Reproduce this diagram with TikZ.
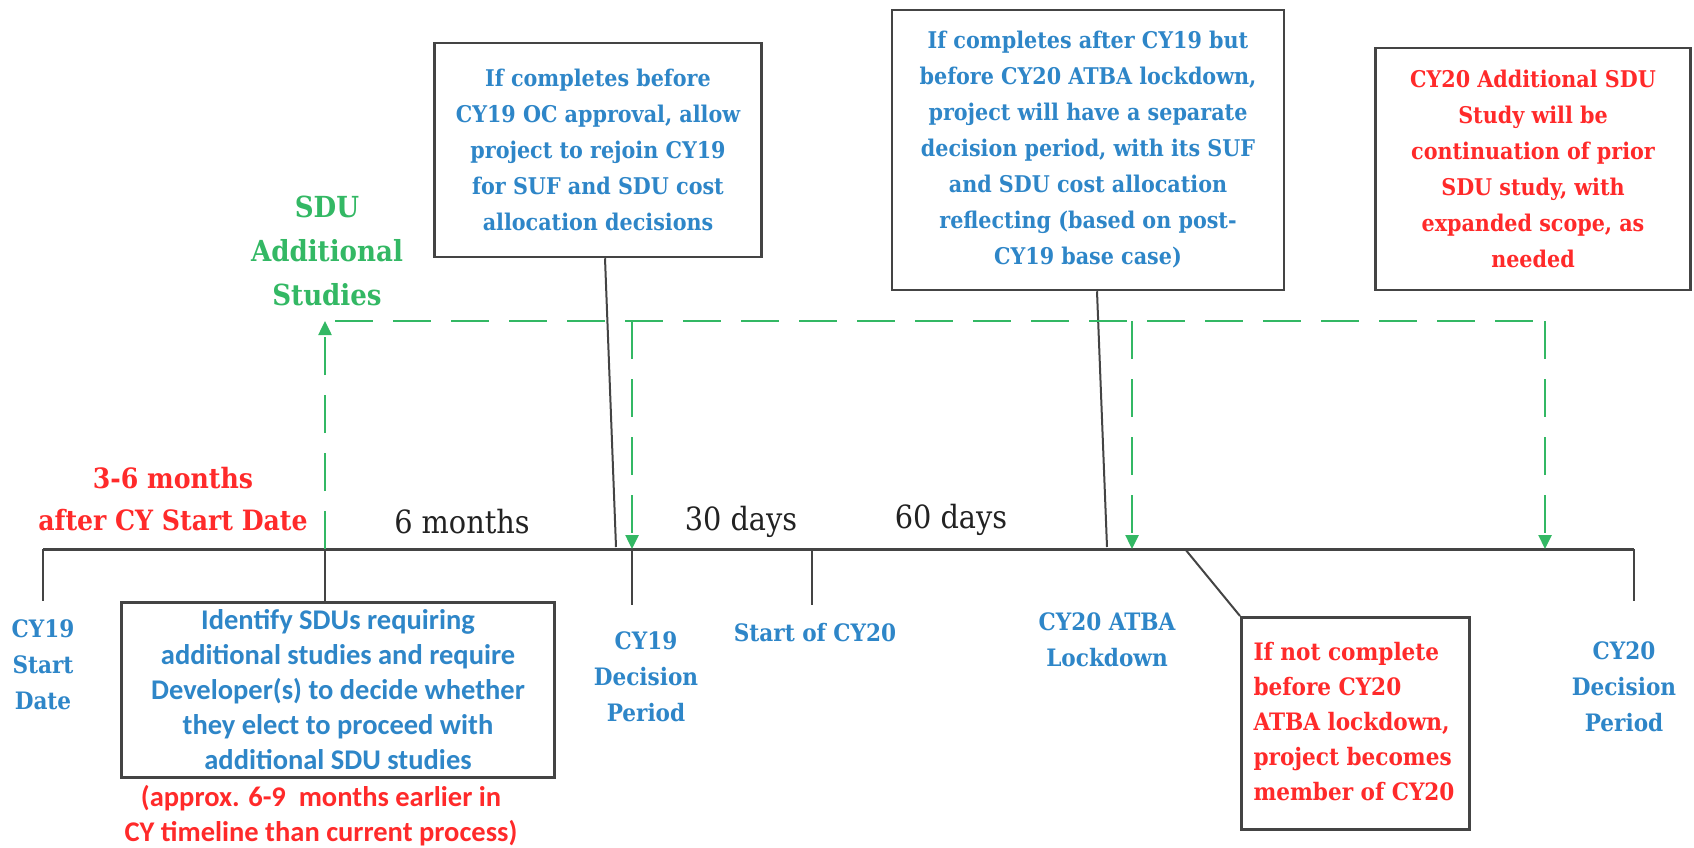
\documentclass[tikz,border=0pt]{standalone}
\usepackage{fontspec}
\usetikzlibrary{arrows.meta}
\newfontfamily\camfont{DejaVu Serif Condensed}
\newfontfamily\calfont{Carlito}
\definecolor{tblue}{HTML}{2E86C8}
\definecolor{tred}{HTML}{FF2A2A}
\definecolor{tgreen}{HTML}{33B864}
\definecolor{tline}{HTML}{444444}
\definecolor{ttext}{HTML}{222222}
\tikzset{
  boxnode/.style={draw=tline, line width=2.5pt, inner sep=0pt, align=center, fill=white},
  camtext/.style={font=\camfont\bfseries\fontsize{23}{36}\selectfont, align=center},
  labtext/.style={font=\camfont\bfseries\fontsize{24}{36}\selectfont, align=center, text=tblue},
  caltext/.style={font=\calfont\bfseries\fontsize{28.5}{35}\selectfont, align=center},
  plaintext/.style={font=\camfont\fontsize{32}{36}\selectfont, text=ttext},
  axis/.style={draw=tline, line width=3pt},
  ticker/.style={draw=tline, line width=2.5pt},
  conn/.style={draw=tline, line width=2pt},
  gdash/.style={draw=tgreen, line width=2.5pt, dash pattern=on 38pt off 20pt},
  garrow/.style={-{Triangle[width=13pt,length=14pt]}, tgreen}
}
\begin{document}
\begin{tikzpicture}[x=1pt,y=-1pt]
\useasboundingbox (0,0) rectangle (1694,848);
% timeline
\coordinate (tl) at (43,549);
\coordinate (tr) at (1634,549);
\draw[axis] (tl) -- (tr);
% ticks
\coordinate (k0) at (43,549);   \coordinate (k0b) at (43,601);
\coordinate (k1) at (325,549);  \coordinate (k1b) at (325,603);
\coordinate (k2) at (632,549);  \coordinate (k2b) at (632,605);
\coordinate (k3) at (812,549);  \coordinate (k3b) at (812,605);
\coordinate (k5) at (1634,549); \coordinate (k5b) at (1634,601);
\draw[ticker] (k0) -- (k0b);
\draw[ticker] (k1) -- (k1b);
\draw[ticker] (k2) -- (k2b);
\draw[ticker] (k3) -- (k3b);
\draw[ticker] (k5) -- (k5b);

% boxes
\node[boxnode, camtext, text=tblue, minimum width=327pt, minimum height=214pt] (b1) at (598,150)
  {If completes before\\CY19 OC approval, allow\\project to rejoin CY19\\for SUF and SDU cost\\allocation decisions};
\node[boxnode, camtext, text=tblue, minimum width=392pt, minimum height=280pt] (b2) at (1088,150)
  {If completes after CY19 but\\before CY20 ATBA lockdown,\\project will have a separate\\decision period, with its SUF\\and SDU cost allocation\\reflecting (based on post-\\CY19 base case)};
\node[boxnode, camtext, text=tred, minimum width=315pt, minimum height=242pt] (b3) at (1533,169)
  {CY20 Additional SDU\\Study will be\\continuation of prior\\SDU study, with\\expanded scope, as\\needed};
\node[boxnode, minimum width=228pt, minimum height=212pt, anchor=north west] (b4) at (1240,616)
  {};
\node[camtext, font=\camfont\bfseries\fontsize{24}{35}\selectfont, text=tred, align=left, anchor=west] (b4t) at (1250,722)
  {If not complete\\before CY20\\ATBA lockdown,\\project becomes\\member of CY20};
\node[boxnode, caltext, text=tblue, minimum width=433pt, minimum height=175pt] (b5) at (338,690)
  {Identify SDUs requiring\\additional studies and require\\Developer(s) to decide whether\\they elect to proceed with\\additional SDU studies};
\node[caltext, text=tred] (approx) at (321,816)
  {(approx. 6-9\ \ months earlier in\\CY timeline than current process)};

% connectors from boxes
\coordinate (c1) at (616,547);
\coordinate (c2) at (1107,547);
\coordinate (c4) at (1185,549);
\draw[conn] (b1.south) ++(7,0) coordinate (b1s) -- (c1);
\draw[conn] (b2.south) ++(9,0) coordinate (b2s) -- (c2);
\draw[conn] (c4) -- (b4.north west);

% labels below timeline
\node[labtext] (l0) at (43,665) {CY19\\Start\\Date};
\node[labtext] (l2) at (646,677) {CY19\\Decision\\Period};
\node[labtext] (l3) at (815,633) {Start of CY20};
\node[labtext] (l4) at (1107,640) {CY20 ATBA\\Lockdown};
\node[labtext] (l5) at (1624,687) {CY20\\Decision\\Period};

% labels above timeline
\node[plaintext] (m1) at (462,522) {6 months};
\node[plaintext] (m2) at (741,522) {30 days};
\node[plaintext] (m3) at (951,520) {60 days};
\node[camtext, text=tred, font=\camfont\bfseries\fontsize{28}{42}\selectfont] (r1) at (173,499) {3-6 months\\after CY Start Date};
\node[camtext, text=tgreen, font=\camfont\bfseries\fontsize{29}{44}\selectfont] (sdu) at (327,251) {SDU\\Additional\\Studies};

% green dashed arrows
\coordinate (g0) at (325,549);
\coordinate (g0t) at (325,321);
\coordinate (g1) at (632,321);  \coordinate (g1b) at (632,549);
\coordinate (g2) at (1132,321); \coordinate (g2b) at (1132,549);
\coordinate (g3) at (1545,321); \coordinate (g3b) at (1545,549);
\draw[gdash, garrow] (g0) -- (g0t);
\draw[gdash] (g0t) ++(10,0) coordinate (g0r) -- (g3);
\draw[gdash, garrow] (g1) -- (g1b);
\draw[gdash, garrow] (g2) -- (g2b);
\draw[gdash, garrow] (g3) -- (g3b);
\end{tikzpicture}
\end{document}
